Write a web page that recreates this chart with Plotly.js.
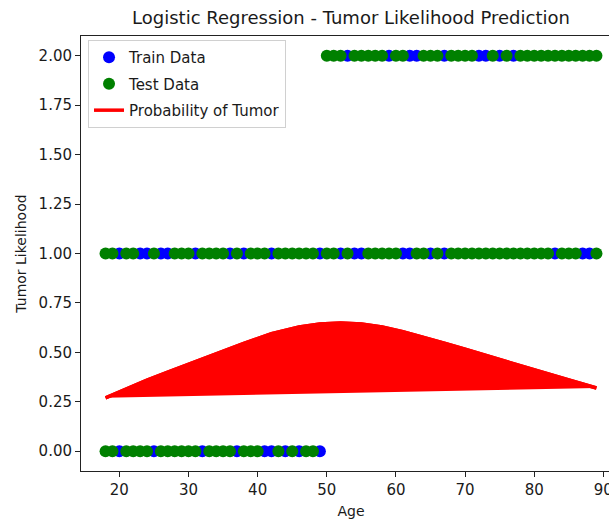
<!DOCTYPE html>
<html>
<head>
<meta charset="utf-8">
<script src="https://cdn.plot.ly/plotly-3.0.1.min.js"></script>
<style>
  html, body { margin: 0; padding: 0; overflow: hidden; background: #fff; }
  #chart { width: 640px; height: 523px; }
</style>
</head>
<body>
<div id="chart"></div>
<script>
// Train data (blue) visible ages per class row
const trainAgeClass0 = [20, 25, 32, 37, 41, 42, 44, 46, 49];
const trainAgeClass1 = [20, 23, 24, 26, 27, 31, 36, 38, 42, 49, 52, 54, 55, 61, 62, 65, 67, 83, 87, 88];
const trainAgeClass2 = [53, 59, 62, 63, 67, 72, 73, 75, 77];

// Test data (green) ages per class row
const testAgeClass0 = [18, 19, 21, 22, 23, 24, 26, 27, 28, 29, 30, 31, 33, 34, 35, 36, 38, 39, 40, 43, 45, 47, 48];
const testAgeClass1 = [18, 19, 21, 22, 25, 28, 29, 30, 32, 33, 34, 35, 37, 39, 40, 41, 43, 44, 45, 46, 47, 48,
                       50, 51, 53, 56, 57, 58, 59, 60, 63, 64, 66, 68, 69, 70, 71, 72, 73, 74, 75, 76, 77, 78,
                       79, 80, 81, 82, 84, 85, 86, 89];
const testAgeClass2 = [50, 51, 52, 54, 55, 56, 57, 58, 60, 61, 64, 65, 66, 68, 69, 70, 71, 74, 76, 78, 79, 80,
                       81, 82, 83, 84, 85, 86, 87, 88, 89];

// Probability of tumor (upper envelope of the scribbled line)
const probAge   = [18, 21, 24, 27, 30, 34, 38, 42, 46, 49, 52, 55, 58, 61, 64, 67, 70, 73, 76, 79, 82, 85, 89];
const probValue = [0.27, 0.315, 0.36, 0.40, 0.44, 0.49, 0.545, 0.595, 0.628, 0.643, 0.648, 0.643, 0.628, 0.605,
                   0.577, 0.547, 0.516, 0.484, 0.452, 0.42, 0.39, 0.36, 0.32];

const xTicks = [20, 30, 40, 50, 60, 70, 80, 90];
const yTicks = [0, 0.25, 0.5, 0.75, 1.0, 1.25, 1.5, 1.75, 2.0];

function rowX(a, b, c) { return a.concat(b, c); }
function rowY(a, b, c) {
  return a.map(() => 0).concat(b.map(() => 1), c.map(() => 2));
}

const FONT = 'DejaVu Sans, Verdana, sans-serif';
const TXT = '#1a1a1a';

const traces = [
  {
    type: 'scatter', mode: 'markers', name: 'Train Data', legendgroup: 'a',
    x: rowX(trainAgeClass0, trainAgeClass1, trainAgeClass2),
    y: rowY(trainAgeClass0, trainAgeClass1, trainAgeClass2),
    marker: { color: '#0000ff', size: 12, line: { width: 0 } },
    hoverinfo: 'skip'
  },
  {
    type: 'scatter', mode: 'markers', name: 'Test Data', legendgroup: 'b',
    x: rowX(testAgeClass0, testAgeClass1, testAgeClass2),
    y: rowY(testAgeClass0, testAgeClass1, testAgeClass2),
    marker: { color: '#008000', size: 12, line: { width: 0 } },
    hoverinfo: 'skip'
  },
  {
    type: 'scatter', mode: 'lines', showlegend: false, legendgroup: 'c',
    x: probAge, y: probValue, fill: 'toself', fillcolor: '#ff0000',
    line: { color: '#ff0000', width: 3.5 },
    hoverinfo: 'skip'
  },
  {
    type: 'scatter', mode: 'lines', name: 'Probability of Tumor', legendgroup: 'c',
    x: probAge, y: probValue,
    line: { color: '#ff0000', width: 3.5 },
    hoverinfo: 'skip'
  }
];

const axisCommon = {
  showline: true, mirror: true, linecolor: '#222', linewidth: 1,
  ticks: 'outside', ticklen: 5, tickwidth: 1, tickcolor: '#222',
  showgrid: false, zeroline: false,
  tickfont: { family: FONT, size: 15, color: TXT }
};

const layout = {
  width: 640, height: 523,
  margin: { l: 81, r: 19, t: 36, b: 52, pad: 0 },
  paper_bgcolor: '#fff', plot_bgcolor: '#fff',
  showlegend: true,
  title: {
    text: 'Logistic Regression - Tumor Likelihood Prediction',
    font: { family: FONT, size: 18, color: TXT },
    x: 0.5, xref: 'paper', y: 1 - 18 / 523, yref: 'container', yanchor: 'middle'
  },
  xaxis: Object.assign({}, axisCommon, {
    range: [14.45, 92.55], tickvals: xTicks, ticktext: xTicks.map(String),
    title: { text: 'Age', font: { family: FONT, size: 14, color: TXT }, standoff: 8 }
  }),
  yaxis: Object.assign({}, axisCommon, {
    range: [-0.1, 2.1], tickvals: yTicks, ticktext: yTicks.map(v => v.toFixed(2)),
    title: { text: 'Tumor Likelihood', font: { family: FONT, size: 14, color: TXT }, standoff: 8 }
  }),
  legend: {
    x: 0.013, y: 0.991, xanchor: 'left', yanchor: 'top',
    bgcolor: 'rgba(255,255,255,0.85)', bordercolor: '#d0d0d0', borderwidth: 1,
    font: { family: FONT, size: 15, color: TXT },
    traceorder: 'grouped', tracegroupgap: 4
  }
};

Plotly.newPlot('chart', traces, layout, { staticPlot: true, displayModeBar: false });
</script>
</body>
</html>
